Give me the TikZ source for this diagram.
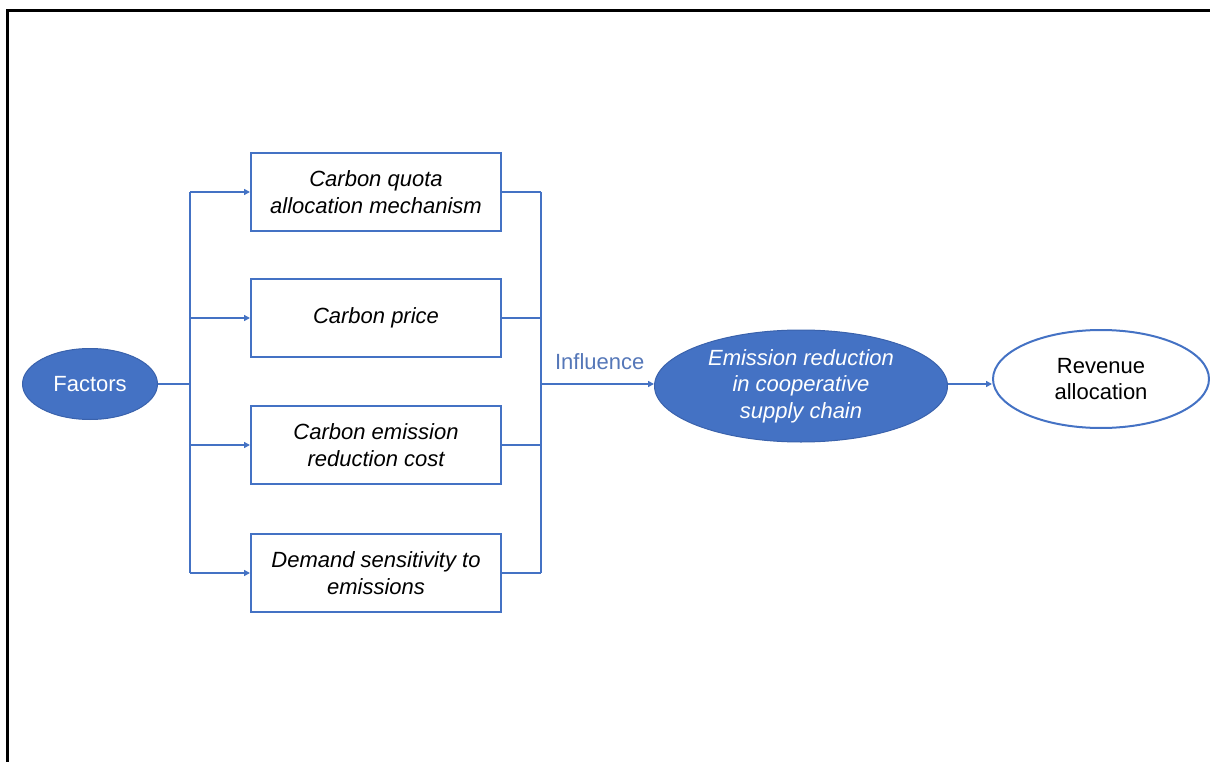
\documentclass[tikz,border=0pt]{standalone}
\usepackage{fontspec}
\setmainfont{Liberation Sans}
\usetikzlibrary{shapes.geometric,arrows.meta}
\definecolor{oblue}{HTML}{4472C4}
\definecolor{oborder}{HTML}{3A62AC}
\definecolor{infl}{HTML}{5577B8}
\tikzset{
  txt/.style={font=\fontsize{22}{26.6}\selectfont, align=center},
  factorbox/.style={txt, draw=oblue, line width=2pt, minimum width=250pt, minimum height=78pt, inner sep=0pt, font=\fontsize{22}{26.6}\selectfont\itshape},
  conn/.style={draw=oblue, line width=2pt},
  arr/.style={conn, -{Triangle[length=6pt,width=6pt]}},
  blueell/.style={ellipse, fill=oblue, draw=oborder, line width=1pt, inner sep=0pt, text=white},
}
\begin{document}
\begin{tikzpicture}[x=1pt,y=-1pt]
\useasboundingbox (0,0) rectangle (1210,762);
\draw[line width=3pt, black] (7.5,762) -- (7.5,11) -- (1210,11);

\node[blueell, txt, minimum width=135pt, minimum height=71pt] (fac) at (90,384) {Factors};

\node[factorbox] (b1) at (376,192) {Carbon quota\\allocation mechanism};
\node[factorbox] (b2) at (376,318) {Carbon price};
\node[factorbox] (b3) at (376,445) {Carbon emission\\reduction cost};
\node[factorbox] (b4) at (376,573) {Demand sensitivity to\\emissions};

\node[blueell, txt, font=\fontsize{22}{26.6}\selectfont\itshape, minimum width=293pt, minimum height=112pt] (em) at (801,386) {Emission reduction\\in cooperative\\supply chain};
\node[ellipse, draw=oblue, line width=2pt, txt, minimum width=216pt, minimum height=98pt, inner sep=0pt] (rev) at (1101,379) {Revenue\\allocation};

\coordinate (lt) at (190,192);
\coordinate (lb) at (190,573);
\coordinate (rt) at (541,192);
\coordinate (rb) at (541,573);

\draw[conn] (fac.east) -- (fac.east -| lt);
\draw[conn] (lt) -- (lb);
\draw[arr] (lt) -- (b1.west);
\draw[arr] (b2.west -| lt) -- (b2.west);
\draw[arr] (b3.west -| lt) -- (b3.west);
\draw[arr] (lb) -- (b4.west);

\draw[conn] (b1.east) -- (rt);
\draw[conn] (b2.east) -- (b2.east -| rt);
\draw[conn] (b3.east) -- (b3.east -| rt);
\draw[conn] (b4.east) -- (rb);
\draw[conn] (rt) -- (rb);
\draw[arr] (fac.east -| rt) -- node[above=10pt, txt, text=infl, pos=0.52] (inf) {Influence} (fac.east -| em.west);
\draw[arr] (fac.east -| em.east) -- (fac.east -| rev.west);
\end{tikzpicture}
\end{document}
